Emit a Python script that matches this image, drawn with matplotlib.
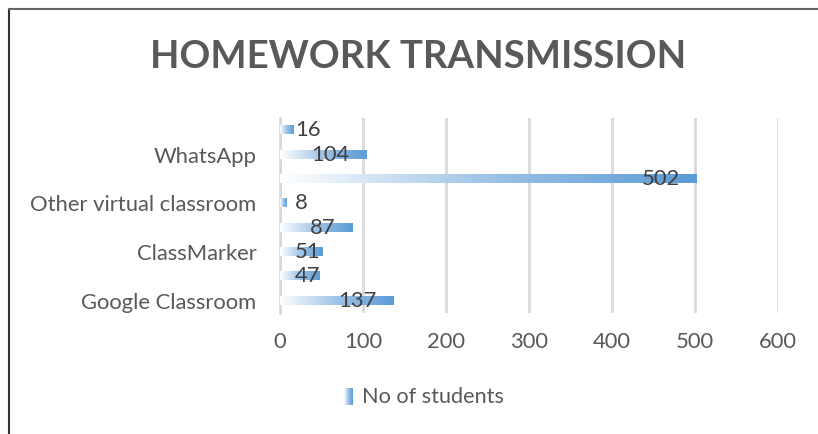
import matplotlib
matplotlib.use("Agg")
import matplotlib.pyplot as plt
import numpy as np
from matplotlib.colors import LinearSegmentedColormap
from matplotlib.lines import Line2D

# data (bottom to top)
categories = ["Google Classroom", "", "ClassMarker", "", "Other virtual classroom", "", "WhatsApp", ""]
students = [137, 47, 51, 87, 8, 502, 104, 16]
x_ticks = [0, 100, 200, 300, 400, 500, 600]
series_name = "No of students"

plt.rcParams['font.family'] = ['Lato', 'DejaVu Sans']

blue = "#5B9BD5"
cmap = LinearSegmentedColormap.from_list("grad", ["#FFFFFF", "#9DC3E6", blue])

fig = plt.figure(figsize=(8.18, 4.34), dpi=100)
ax = fig.add_axes([0.3423, 0.2788, 0.6088, 0.4493])

ypos = np.arange(len(categories))
bars = ax.barh(ypos, students, height=0.33, color="none", zorder=3)
grad = np.linspace(0, 1, 256).reshape(1, -1)
for rect in bars:
    x0, y0 = rect.get_x(), rect.get_y()
    w, h = rect.get_width(), rect.get_height()
    ax.imshow(grad, cmap=cmap, aspect="auto", extent=(x0, x0 + w, y0, y0 + h),
              zorder=3, interpolation="bilinear")

ax.set_xlim(0, 600)
ax.set_ylim(-0.5, len(categories) - 0.5)
ax.set_xticks(x_ticks)
ax.set_yticks(ypos)
ax.set_yticklabels(categories)
ax.tick_params(axis="both", length=0, labelsize=15.8, colors="#595959")
ax.tick_params(axis="y", pad=17)
ax.tick_params(axis="x", pad=14)
ax.grid(axis="x", color="#D9D9D9", linewidth=2, zorder=0)
for s in ["top", "right", "bottom"]:
    ax.spines[s].set_visible(False)
ax.spines["left"].set_color("#D9D9D9")
ax.spines["left"].set_linewidth(2)

# data labels
for y, v in zip(ypos, students):
    if v < 60:
        ax.annotate(str(v), (0, y), xytext=(15, 0), textcoords="offset pixels",
                    ha="left", va="center", fontsize=15.8, color="#404040", zorder=4)
    else:
        ax.annotate(str(v), (v, y), xytext=(-17, 0), textcoords="offset pixels",
                    ha="right", va="center", fontsize=15.8, color="#404040", zorder=4)

fig.text(0.511, 1 - 57 / 434, "HOMEWORK TRANSMISSION", ha="center", va="center",
         fontsize=27.5, fontweight="bold", color="#595959")

# legend
lax = fig.add_axes([344 / 818, 1 - 405 / 434, 9 / 818, 17 / 434])
lax.imshow(grad, cmap=cmap, aspect="auto", extent=(0, 1, 0, 1))
lax.axis("off")
fig.text(362 / 818, 1 - 397 / 434, series_name, ha="left", va="center",
         fontsize=15.6, color="#595959")

# outer border
fig.add_artist(Line2D([9 / 818, 9 / 818], [0, 1 - 9 / 434], transform=fig.transFigure,
                      color="#333333", linewidth=1.5))
fig.add_artist(Line2D([9 / 818, 1], [1 - 9 / 434, 1 - 9 / 434], transform=fig.transFigure,
                      color="#666666", linewidth=1.5))

fig.savefig("out.png", dpi=100)
